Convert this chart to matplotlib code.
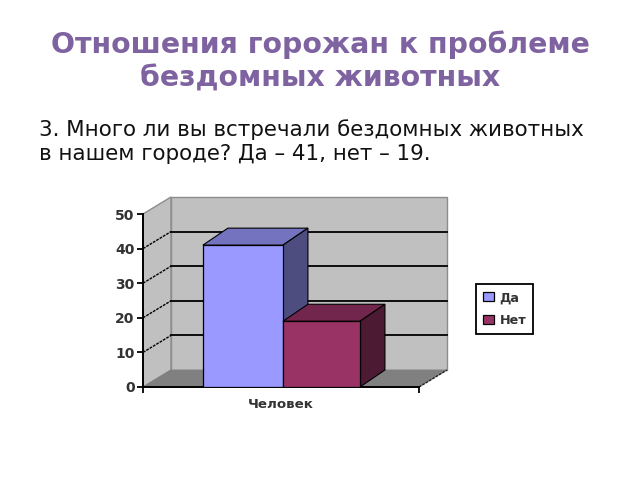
import matplotlib
matplotlib.use('Agg')
import matplotlib.pyplot as plt
from matplotlib.patches import Polygon

title_lines = ['Отношения горожан к проблеме', 'бездомных животных']
body_lines = ['3. Много ли вы встречали бездомных животных',
              'в нашем городе? Да – 41, нет – 19.']
series_names = ['Да', 'Нет']
series_values = [41, 19]
y_ticks = [0, 10, 20, 30, 40, 50]
x_label = 'Человек'

front_colors = ['#9999ff', '#993366']
top_colors = ['#7373bf', '#73264d']
side_colors = ['#4d4d80', '#4d1a33']

W, H = 640, 480
fig = plt.figure(figsize=(W / 100, H / 100), dpi=100, facecolor='white')

# titles and text are placed in pixels from the top left
for txt, y in zip(title_lines, [45, 79]):
    fig.text(320 / W, 1 - y / H, txt, ha='center', va='center', fontsize=20.4,
             fontweight='bold', color='#7f63a1')
for txt, y in zip(body_lines, [130, 154]):
    fig.text(39 / W, 1 - y / H, txt, ha='left', va='center', fontsize=15.41,
             color='#111111')

# axes = front plane of the 3d box
x0, x1, ytop, ybot = 143, 419, 214, 387
ax = fig.add_axes([x0 / W, 1 - ybot / H, (x1 - x0) / W, (ybot - ytop) / H])
ax.set_xlim(0, 1)
ax.set_ylim(0, 50)
ax.patch.set_visible(False)
for s in ['top', 'right']:
    ax.spines[s].set_visible(False)
for s in ['left', 'bottom']:
    ax.spines[s].set_linewidth(1.4)

# depth of box, in data units
dx = 28 / (x1 - x0)
dy = 17 / (ybot - ytop) * 50
bar_dx = 25 / (x1 - x0)


def poly(pts, color, edge='black', lw=0.8, z=1):
    ax.add_patch(Polygon(pts, closed=True, facecolor=color, edgecolor=edge,
                         linewidth=lw, zorder=z, clip_on=False))


# walls and floor
poly([(dx, dy), (1 + dx, dy), (1 + dx, 50 + dy), (dx, 50 + dy)], '#c0c0c0', '#8c8c8c', 1.0)
poly([(0, 0), (dx, dy), (dx, 50 + dy), (0, 50)], '#c0c0c0', '#8c8c8c', 1.0)
poly([(0, 0), (dx, dy), (1 + dx, dy), (1, 0)], '#808080', '#808080', 0.5)

# grid on both walls
for t in y_ticks[1:-1]:
    ax.plot([dx, 1 + dx], [t + dy, t + dy], color='black', lw=1.3, zorder=2, clip_on=False)
    ax.plot([0, dx], [t, t + dy], color='black', lw=1.0, ls=(0, (2, 0.8)), zorder=2, clip_on=False)
ax.plot([1, 1 + dx], [0, dy], color='#222222', lw=1.0, ls=(0, (2, 0.8)), zorder=2, clip_on=False)

# bars
bar_w = [0.29, 0.279]
bar_left = [0.217, 0.507]
rects = ax.bar(bar_left, series_values, width=bar_w, align='edge', color=front_colors,
               edgecolor='black', linewidth=0.9, zorder=3)
for i, r in enumerate(rects):
    l, w, v = r.get_x(), r.get_width(), r.get_height()
    z = 3 + i
    r.set_zorder(z + 0.5)
    poly([(l, v), (l + bar_dx, v + dy), (l + w + bar_dx, v + dy), (l + w, v)], top_colors[i], z=z)
    poly([(l + w, 0), (l + w + bar_dx, dy), (l + w + bar_dx, v + dy), (l + w, v)], side_colors[i], z=z)

ax.set_yticks(y_ticks)
ax.set_xticks([0, 1])
ax.set_xticklabels(['', ''])
ax.tick_params(axis='y', length=4, width=1.3, labelsize=10, pad=2, labelcolor='#333333')
ax.tick_params(axis='x', length=4, width=1.3, direction='out')
for lb in ax.get_yticklabels():
    lb.set_fontweight('bold')
fig.text(281 / W, 1 - 405 / H, x_label, ha='center', va='center', fontsize=9.6,
         fontweight='bold', color='#333333')

leg = fig.legend(rects, series_names, loc='center', bbox_to_anchor=(504.5 / W, 1 - 309 / H),
                 fancybox=False, framealpha=1, edgecolor='black', handlelength=0.9,
                 handleheight=0.7, handletextpad=0.4, labelspacing=0.75, borderpad=0.55,
                 borderaxespad=0, prop={'size': 9.2, 'weight': 'bold'}, labelcolor='#333333')
leg.get_frame().set_linewidth(1.3)

fig.savefig('out.png', dpi=100)
